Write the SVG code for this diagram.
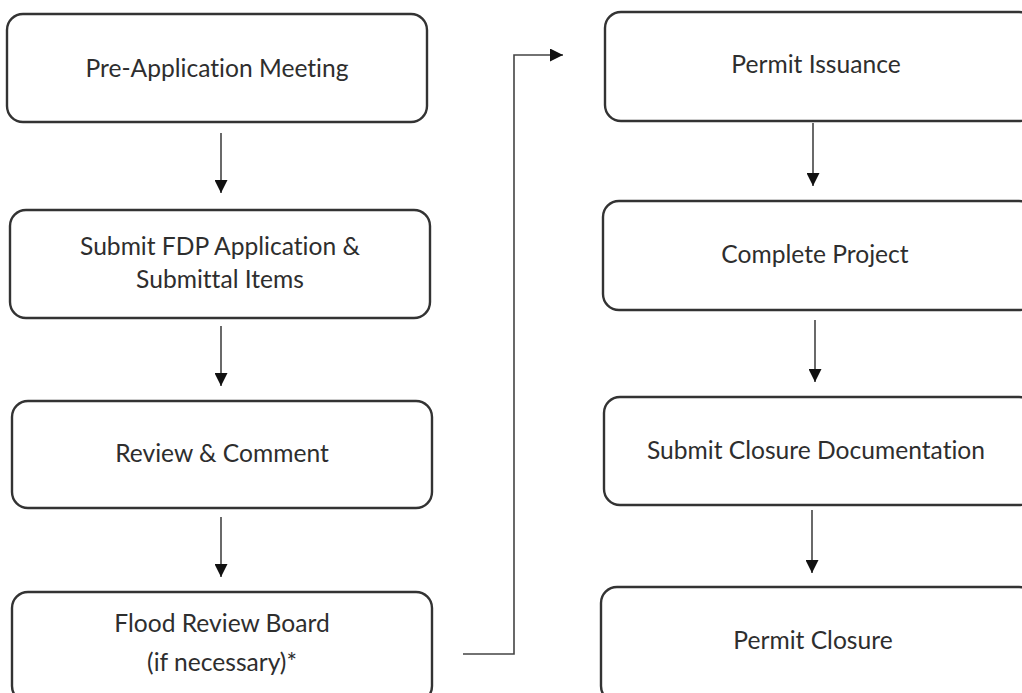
<svg xmlns="http://www.w3.org/2000/svg" width="1022" height="693" viewBox="0 0 1022 693">
<style>
.box{fill:#fff;stroke:#333;stroke-width:2.4}
.lbl{font-family:Lato,"Open Sans","Liberation Sans",sans-serif;font-size:24.6px;fill:#2e2e2e;text-anchor:middle;dominant-baseline:central;font-variant-ligatures:none}
.con{fill:none;stroke:#444;stroke-width:1.6}
</style>
<defs>
<marker id="ah" viewBox="0 0 10 10" refX="10" refY="5" markerWidth="13" markerHeight="13" markerUnits="userSpaceOnUse" orient="auto">
<path d="M0,0 L10,5 L0,10 Z" fill="#111"/>
</marker>
</defs>
<rect width="1022" height="693" fill="#fff"/>
<g id="n1"><rect class="box" x="7" y="14" width="420" height="108" rx="16"/><text class="lbl" x="217" y="67">Pre-Application Meeting</text></g>
<g id="n2"><rect class="box" x="10" y="210" width="420" height="108" rx="16"/><text class="lbl" x="220" y="245">Submit FDP Application &amp;</text><text class="lbl" x="220" y="278">Submittal Items</text></g>
<g id="n3"><rect class="box" x="12" y="401" width="420" height="107" rx="16"/><text class="lbl" x="222" y="452">Review &amp; Comment</text></g>
<g id="n4"><rect class="box" x="12" y="592" width="420" height="110" rx="16"/><text class="lbl" x="222" y="622">Flood Review Board</text><text class="lbl" x="222" y="661">(if necessary)*</text></g>
<g id="n5"><rect class="box" x="605" y="12" width="430" height="109" rx="16"/><text class="lbl" x="816" y="63">Permit Issuance</text></g>
<g id="n6"><rect class="box" x="603" y="201" width="432" height="109" rx="16"/><text class="lbl" x="815" y="253">Complete Project</text></g>
<g id="n7"><rect class="box" x="604" y="397" width="431" height="108" rx="16"/><text class="lbl" x="816" y="449">Submit Closure Documentation</text></g>
<g id="n8"><rect class="box" x="601" y="587" width="434" height="115" rx="16"/><text class="lbl" x="813" y="639">Permit Closure</text></g>
<g id="connectors">
<line class="con" x1="221" y1="133" x2="221" y2="193" marker-end="url(#ah)"/>
<line class="con" x1="221" y1="326" x2="221" y2="386" marker-end="url(#ah)"/>
<line class="con" x1="221" y1="517" x2="221" y2="577" marker-end="url(#ah)"/>
<polyline class="con" points="463,654 514,654 514,55 563,55" marker-end="url(#ah)"/>
<line class="con" x1="813" y1="123" x2="813" y2="186" marker-end="url(#ah)"/>
<line class="con" x1="815" y1="320" x2="815" y2="382" marker-end="url(#ah)"/>
<line class="con" x1="812" y1="510" x2="812" y2="573" marker-end="url(#ah)"/>
</g>
</svg>
